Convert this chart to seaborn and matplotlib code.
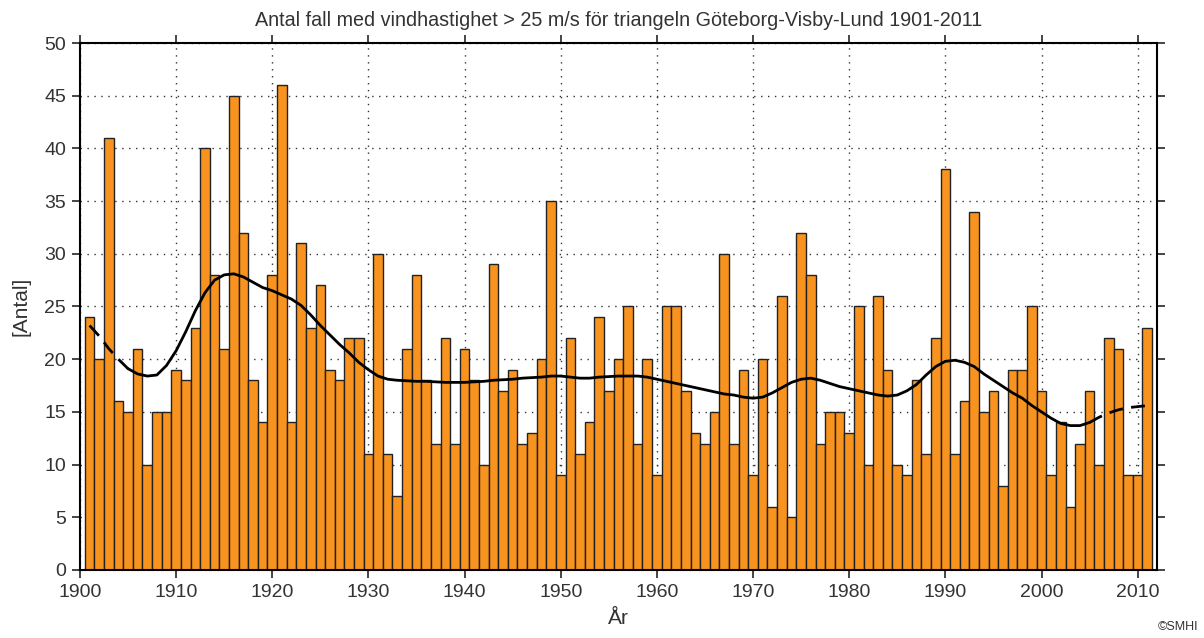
import numpy as np
import pandas as pd
import matplotlib
matplotlib.use("Agg")
import matplotlib.pyplot as plt
import seaborn as sns

years = list(range(1901, 2012))
counts = [24, 20, 41, 16, 15, 21, 10, 15, 15, 19,
          18, 23, 40, 28, 21, 45, 32, 18, 14, 28,
          46, 14, 31, 23, 27, 19, 18, 22, 22, 11,
          30, 11, 7, 21, 28, 18, 12, 22, 12, 21,
          18, 10, 29, 17, 19, 12, 13, 20, 35, 9,
          22, 11, 14, 24, 17, 20, 25, 12, 20, 9,
          25, 25, 17, 13, 12, 15, 30, 12, 19, 9,
          20, 6, 26, 5, 32, 28, 12, 15, 15, 13,
          25, 10, 26, 19, 10, 9, 18, 11, 22, 38,
          11, 16, 34, 15, 17, 8, 19, 19, 25, 17,
          9, 14, 6, 12, 17, 10, 22, 21, 9, 9, 23]

trend = [23.2, 22.2, 21.0, 20.0, 19.1, 18.6, 18.4, 18.5, 19.4, 20.8,
         22.6, 24.6, 26.3, 27.5, 28.0, 28.1, 27.8, 27.3, 26.8, 26.5,
         26.1, 25.7, 25.1, 24.2, 23.2, 22.3, 21.4, 20.6, 19.7, 19.0,
         18.4, 18.1, 18.0, 17.95, 17.9, 17.9, 17.85, 17.8, 17.8, 17.8,
         17.85, 17.9, 18.0, 18.05, 18.1, 18.2, 18.25, 18.3, 18.4, 18.4,
         18.3, 18.2, 18.2, 18.3, 18.35, 18.4, 18.4, 18.4, 18.3, 18.1,
         17.9, 17.7, 17.5, 17.3, 17.1, 16.9, 16.7, 16.6, 16.4, 16.3,
         16.4, 16.8, 17.3, 17.8, 18.1, 18.2, 18.0, 17.7, 17.4, 17.2,
         17.0, 16.8, 16.6, 16.5, 16.6, 17.0, 17.6, 18.5, 19.3, 19.8,
         19.9, 19.7, 19.3, 18.6, 18.0, 17.4, 16.8, 16.3, 15.6, 15.0,
         14.4, 13.9, 13.7, 13.7, 14.0, 14.5, 14.9, 15.2, 15.4, 15.5, 15.6]

title = "Antal fall med vindhastighet > 25 m/s för triangeln Göteborg-Visby-Lund 1901-2011"
ylabel = "[Antal]"
xlabel = "År"
credit = "©SMHI"
xticks = list(range(1900, 2011, 10))
yticks = list(range(0, 51, 5))

df = pd.DataFrame({"year": years, "count": counts, "trend": trend})

sns.set_style("ticks")
plt.rcParams["font.family"] = ["Liberation Sans", "DejaVu Sans"]
text_col = "#333333"

fig = plt.figure(figsize=(12.04, 6.38), dpi=100)
ax = fig.add_axes([0.0664, 0.1066, 0.8945, 0.826])

ax.set_axisbelow(True)
ax.grid(True, linestyle=(0, (1, 4)), color="#333333", linewidth=1.0)

sns.barplot(data=df, x="year", y="count", native_scale=True, width=1.0,
            color="#F7931E", saturation=1, edgecolor="#222222", linewidth=1.0,
            errorbar=None, ax=ax)

mid = df[(df["year"] >= 1905) & (df["year"] <= 2005)]
left = df[df["year"] <= 1905]
right = df[df["year"] >= 2005]
sns.lineplot(data=mid, x="year", y="trend", color="black", linewidth=2.0, ax=ax)
sns.lineplot(data=left, x="year", y="trend", color="black", linewidth=2.0,
             linestyle=(0, (5, 3)), ax=ax)
sns.lineplot(data=right, x="year", y="trend", color="black", linewidth=2.0,
             linestyle=(0, (5, 3)), ax=ax)

ax.set_xlim(1900, 2012)
ax.set_ylim(0, 50)
ax.set_xticks(xticks)
ax.set_yticks(yticks)
ax.tick_params(axis="both", which="major", direction="out", length=6, width=1.2,
               labelsize=14, labelcolor=text_col, top=True, right=True,
               labeltop=False, labelright=False, pad=4)
for s in ax.spines.values():
    s.set_color("black")
    s.set_linewidth(1.5)
    s.set_visible(True)

ax.set_title(title, fontsize=14.2, color=text_col, pad=12)
ax.set_xlabel(xlabel, fontsize=15, color=text_col, labelpad=6)
ax.set_ylabel(ylabel, fontsize=15, color=text_col, labelpad=10)
fig.text(0.995, 0.008, credit, ha="right", va="bottom", fontsize=9, color=text_col)

fig.savefig("out.png", dpi=100)
